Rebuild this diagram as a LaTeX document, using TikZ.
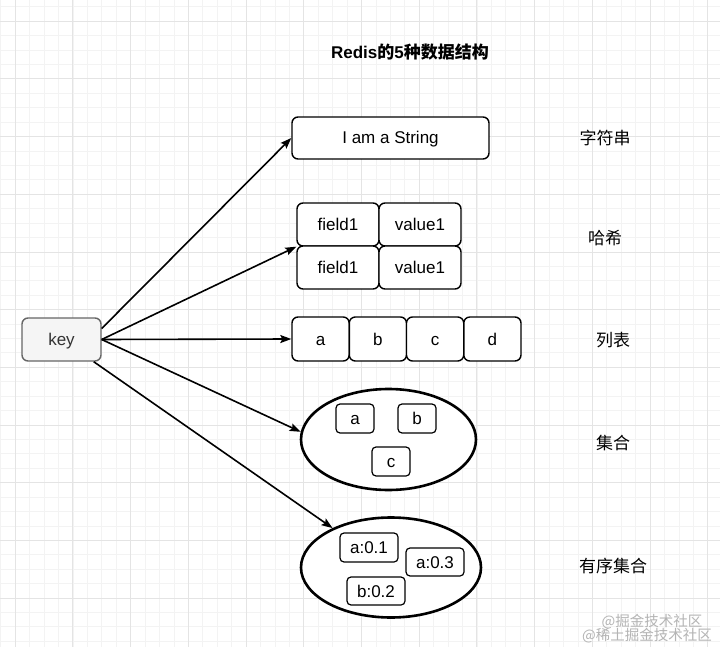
\documentclass[tikz,border=0pt]{standalone}
\usepackage{fontspec}
\setmainfont{Liberation Sans}
\newfontfamily\cjk{Noto Sans CJK SC}
\usetikzlibrary{arrows.meta,calc,shapes.geometric}
\definecolor{keyedge}{HTML}{666666}
\definecolor{keyfill}{HTML}{F5F5F5}
\definecolor{keytext}{HTML}{333333}
\definecolor{gridmajor}{HTML}{E4E4E4}
\definecolor{gridminor}{HTML}{F3F3F3}
\definecolor{wmark}{HTML}{B4B4B4}
\begin{document}
\begin{tikzpicture}[x=1pt,y=-1pt,
  every node/.style={font=\fontsize{17}{20}\selectfont, text=black, text height=14pt, text depth=2pt},
  box/.style={draw=black, rounded corners=6pt, line width=1.4pt, inner sep=0pt, fill=white},
  smallbox/.style={draw=black, rounded corners=4pt, line width=1.2pt, inner sep=0pt, fill=white},
  keybox/.style={draw=keyedge, fill=keyfill, rounded corners=6pt, line width=1.4pt, inner sep=0pt, text=keytext},
  setshape/.style={draw=black, ellipse, line width=2.6pt, inner sep=0pt, fill=white},
  lab/.style={font=\cjk\fontsize{17}{20}\selectfont},
  conn/.style={line width=1.6pt, -{Stealth[length=11pt,width=8pt,inset=2pt]}},
  minorline/.style={draw=gridminor, line width=0.8pt},
  majorline/.style={draw=gridmajor, line width=1pt}]
\useasboundingbox (0,0) rectangle (720,647);
\fill[white] (0,0) rectangle (720,647);
% grid
\foreach \i in {-1,...,49}{
  \draw[minorline] ({15.2+\i*14.43},0) -- ({15.2+\i*14.43},647);
}
\foreach \i in {-1,...,44}{
  \draw[minorline] (0,{21.2+\i*14.42}) -- (720,{21.2+\i*14.42});
}
\foreach \i in {0,...,12}{
  \draw[majorline] ({15.2+\i*57.72},0) -- ({15.2+\i*57.72},647);
}
\foreach \i in {0,...,10}{
  \draw[majorline] (0,{21.2+\i*57.7}) -- (720,{21.2+\i*57.7});
}
% title
\node (title) at (410,53) {\bfseries Redis{\cjk 的}5{\cjk 种数据结构}};
% key
\node[keybox, minimum width=79pt, minimum height=43pt] (key) at (61.5,339.5) {key};
% string
\node[box, minimum width=197pt, minimum height=42pt] (str) at (390.5,138) {I am a String};
% hash
\node[box, minimum width=82pt, minimum height=43pt] (hf1) at (338,224.5) {field1};
\node[box, minimum width=82pt, minimum height=43pt] (hv1) at (420,224.5) {value1};
\node[box, minimum width=82pt, minimum height=43pt] (hf2) at (338,267.5) {field1};
\node[box, minimum width=82pt, minimum height=43pt] (hv2) at (420,267.5) {value1};
% list
\node[box, minimum width=57.2pt, minimum height=44pt] (la) at (320.6,339) {a};
\node[box, minimum width=57.2pt, minimum height=44pt] (lb) at (377.9,339) {b};
\node[box, minimum width=57.2pt, minimum height=44pt] (lc) at (435.1,339) {c};
\node[box, minimum width=57.2pt, minimum height=44pt] (ld) at (492.4,339) {d};
% set
\node[setshape, minimum width=175pt, minimum height=101pt] (set) at (388.5,439.5) {};
\node[smallbox, minimum width=38pt, minimum height=29pt] (sa) at (355,418.5) {a};
\node[smallbox, minimum width=38pt, minimum height=29pt] (sb) at (417,418.5) {b};
\node[smallbox, minimum width=38pt, minimum height=29pt] (sc) at (391,461.5) {c};
% sorted set
\node[setshape, minimum width=180pt, minimum height=100pt] (zset) at (391,567.5) {};
\node[smallbox, minimum width=58pt, minimum height=29pt] (z1) at (369,547.5) {a:0.1};
\node[smallbox, minimum width=58pt, minimum height=28pt] (z3) at (435,562) {a:0.3};
\node[smallbox, minimum width=58pt, minimum height=28pt] (z2) at (376,591) {b:0.2};
% labels
\node[lab] (l1) at (605,139) {字符串};
\node[lab] (l2) at (605,238) {哈希};
\node[lab] (l3) at (613,340) {列表};
\node[lab] (l4) at (613,443) {集合};
\node[lab] (l5) at (613,566) {有序集合};
% connectors
\draw[conn] ($(key.east)+(0,-11)$) -- (str.west);
\draw[conn] (key.east) -- (hf1.south west);
\draw[conn] (key.east) -- (la.west);
\draw[conn] (key.east) -- (set.175);
\draw[conn] ($(key.south east)+(-8,0)$) -- (zset.146);
% watermark
\node[font=\cjk\fontsize{14.5}{16}\selectfont, text=wmark] (wm1) at (652,620) {@掘金技术社区};
\node[font=\cjk\fontsize{14.5}{16}\selectfont, text=wmark] (wm2) at (647,634) {@稀土掘金技术社区};
\end{tikzpicture}
\end{document}
